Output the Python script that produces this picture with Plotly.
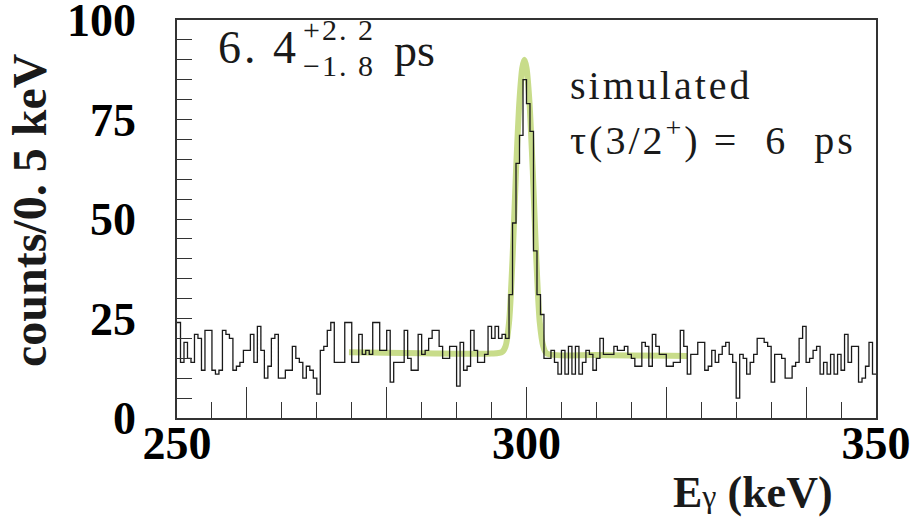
import numpy as np
import plotly.graph_objects as go

# ---- data ----
bin_start = 250.0      # keV
bin_width = 0.5        # keV
counts = [
    24, 14, 19, 15, 14, 21, 20, 12, 22, 22, 12, 11, 12, 22, 21, 20, 12, 13, 14, 17,
    17, 21, 14, 23, 17, 10, 13, 20, 21, 10, 10, 12, 12, 18, 15, 14, 10, 13, 12, 10,
    6, 17, 18, 22, 24, 14, 14, 14, 24, 24, 14, 14, 21, 16, 17, 16, 24, 24, 17, 17,
    22, 9, 14, 14, 14, 22, 15, 12, 12, 21, 16, 17, 20, 22, 22, 18, 15, 15, 18, 18,
    8, 19, 12, 13, 22, 17, 14, 14, 16, 23, 20, 23, 20, 21, 20, 31, 49, 64, 71, 85,
    79, 72, 42, 31, 26, 15, 15, 17, 14, 11, 17, 11, 18, 11, 18, 11, 14, 17, 16, 12,
    15, 20, 16, 16, 16, 18, 17, 17, 18, 16, 15, 13, 13, 19, 18, 13, 21, 18, 16, 16,
    13, 13, 14, 14, 22, 18, 11, 16, 16, 19, 19, 12, 13, 17, 14, 16, 18, 19, 16, 14,
    5, 16, 15, 11, 14, 16, 20, 20, 19, 18, 9, 16, 16, 15, 10, 10, 13, 14, 20, 23,
    14, 15, 17, 18, 11, 14, 11, 16, 11, 16, 12, 21, 14, 18, 18, 9, 10, 13, 19, 11,
]

# simulated line shape (tau = 6 ps)
sim_x = [274.6, 285.0, 295.0, 296.5, 297.0, 297.5, 298.0, 298.5, 299.0, 299.4,
         299.7, 300.0, 300.4, 300.9, 301.4, 301.9, 302.4, 302.9, 310.0, 323.0]
sim_y = [16.5, 16.3, 16.2, 16.6, 18.0, 24.0, 40.0, 62.0, 80.0, 88.0,
         90.0, 88.0, 80.0, 62.0, 40.0, 24.0, 18.0, 16.2, 15.8, 15.6]

x_label_vals = [250, 300, 350]
x_long_ticks = [260, 280, 300, 320, 340]
y_label_vals = [0, 25, 50, 75, 100]

# ---- build step histogram ----
n = len(counts)
edges = bin_start + bin_width * np.arange(n + 1)
hx = list(edges)
hy = list(counts) + [counts[-1]]

fig = go.Figure()
fig.add_trace(go.Scatter(
    x=sim_x, y=sim_y, mode="lines",
    line=dict(color="#c8dc8a", width=6, shape="spline", smoothing=0.8),
    hoverinfo="skip",
))
fig.add_trace(go.Scatter(
    x=hx, y=hy, mode="lines", xaxis="x2",
    line=dict(color="#1a1a1a", width=1.3, shape="hv"),
))

L, R, T, B = 177, 45, 20, 99
W, H = 921, 517
pw, ph = W - L - R, H - T - B

def px(x):
    return (x - L) / pw

def py(y):
    return (H - B - y) / ph

serif = "Liberation Serif"
axis_font = dict(family=serif, size=46, color="black", weight="bold")
tick_col = "#333"

fig.update_layout(
    width=W, height=H,
    margin=dict(l=L, r=R, t=T, b=B, autoexpand=False),
    plot_bgcolor="white", paper_bgcolor="white",
    showlegend=False,
    xaxis=dict(
        range=[250, 350], showline=True, mirror=True, linecolor=tick_col, linewidth=1.5,
        ticks="inside", tickvals=x_label_vals,
        ticklen=31, tickwidth=1.2, tickcolor=tick_col,
        minor=dict(ticks="inside", tick0=250, dtick=5, ticklen=16, tickwidth=1.2, tickcolor=tick_col),
        showgrid=False, zeroline=False, tickfont=axis_font, ticklabelstandoff=-16,
        ticklabeloverflow="allow", automargin=False,
    ),
    xaxis2=dict(
        range=[250, 350], overlaying="x", anchor="y", side="bottom",
        showline=False, ticks="inside", tickvals=x_long_ticks, showticklabels=False,
        ticklen=31, tickwidth=1.2, tickcolor=tick_col, showgrid=False, zeroline=False,
        automargin=False,
    ),
    yaxis=dict(
        range=[0, 100], showline=True, mirror=True, linecolor=tick_col, linewidth=1.5,
        ticks="inside", tickvals=y_label_vals,
        ticklen=15, tickwidth=1.2, tickcolor=tick_col,
        minor=dict(ticks="inside", tick0=0, dtick=5, ticklen=15, tickwidth=1.2, tickcolor=tick_col),
        showgrid=False, zeroline=False, tickfont=axis_font, ticklabelstandoff=30,
        ticklabeloverflow="allow", automargin=False,
    ),
)

big = dict(family=serif, size=46, color="#1a1a1a")
reg = dict(family=serif, size=40, color="#1a1a1a")
small = dict(family=serif, size=30, color="#1a1a1a")

def spaced(txt, px_sp):
    return "<span style='letter-spacing:%dpx'>%s</span>" % (px_sp, txt)

ann = [
    dict(text="counts/0. 5 keV", x=px(30), y=py(210), textangle=-90,
         font=dict(family=serif, size=48, color="#1a1a1a", weight="bold")),
    dict(text="E<span style='font-size:32px;font-weight:normal'>γ</span> (keV)",
         x=px(835), y=py(492), xanchor="right",
         font=dict(family=serif, size=44, color="#1a1a1a", weight="bold")),
    dict(text=spaced("6. 4", 3), x=px(216), y=py(48), xanchor="left", font=big),
    dict(text=spaced("+2. 2", 2), x=px(301), y=py(29), xanchor="left", font=small),
    dict(text=spaced("−1. 8", 2), x=px(301), y=py(66), xanchor="left", font=small),
    dict(text="ps", x=px(392), y=py(50), xanchor="left", font=big),
    dict(text=spaced("simulated", 3), x=px(568), y=py(85), xanchor="left", font=reg),
    dict(text=spaced("τ(3/2<sup>+</sup>) =  6  ps", 3), x=px(568), y=py(137),
         xanchor="left", font=reg),
]
for a in ann:
    a.setdefault("xanchor", "center")
    a.setdefault("yanchor", "middle")
    a.update(xref="paper", yref="paper", showarrow=False)
fig.update_layout(annotations=ann)

fig.write_html("out.html")
